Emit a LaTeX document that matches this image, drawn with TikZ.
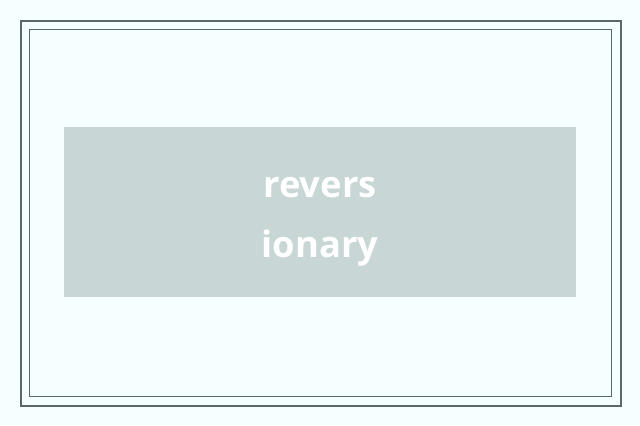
\documentclass[tikz,border=0pt]{standalone}
\usepackage{fontspec}
\setmainfont{Open Sans}
\usetikzlibrary{positioning}
\definecolor{pagebg}{HTML}{F5FFFF}
\definecolor{frameline}{HTML}{5A6868}
\definecolor{labelbox}{HTML}{C8D6D6}
\tikzset{
	outerframe/.style={draw=frameline, line width=2bp},
	innerframe/.style={draw=frameline, line width=0.9bp},
	wordbox/.style={fill=labelbox, minimum width=512bp, minimum height=170bp, inner sep=0pt},
	wordtext/.style={text=white, font=\fontsize{36.5}{60}\selectfont\bfseries, align=center}
}
\begin{document}
\begin{tikzpicture}[x=1bp, y=1bp]
	\fill[pagebg] (0,0) rectangle (640,425);
	\useasboundingbox (0,0) rectangle (640,425);
	
	\begin{scope}
	\draw[outerframe] (21,19.5) rectangle (621,404);
	\draw[innerframe] (29.5,28.5) rectangle (611.5,395.5);
	\end{scope}
	
	\begin{scope}
	\node[wordbox] (box) at (320,213) {};
	\node[wordtext, yshift=-10bp] (word) at (box.center) {revers\\ionary};
	\end{scope}
\end{tikzpicture}
\end{document}
